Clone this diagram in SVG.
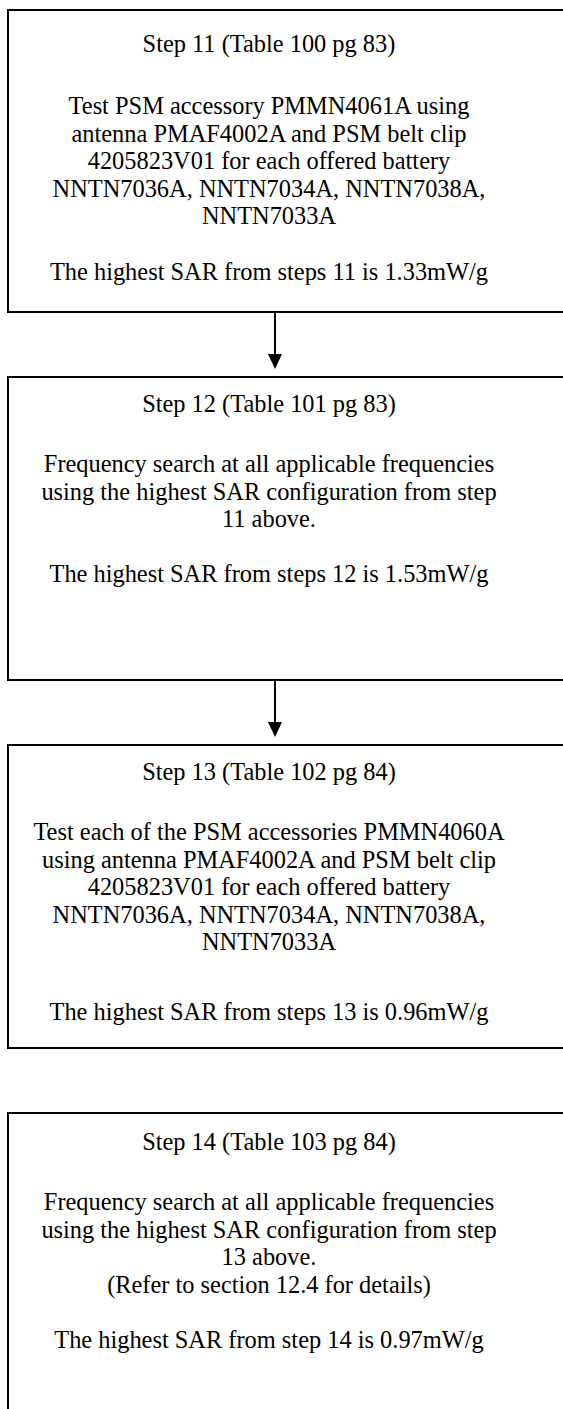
<svg xmlns="http://www.w3.org/2000/svg" width="563" height="1409" viewBox="0 0 563 1409">
<style>
.box{fill:#fff;stroke:#000;stroke-width:2}
text{font-family:'Liberation Serif','Times New Roman',Times,'DejaVu Serif',serif;font-size:24.4px;fill:#000;text-anchor:middle}
.conn{stroke:#000;stroke-width:2;fill:none}
</style>
<rect width="563" height="1409" fill="#fff"/>
<g id="step11" font-family="Liberation Serif, Times New Roman, serif">
<rect class="box" x="8" y="10" width="570" height="302"/>
<text x="269" y="52">Step 11 (Table 100 pg 83)</text>
<text x="269" y="114">Test PSM accessory PMMN4061A using</text>
<text x="269" y="141.6">antenna PMAF4002A and PSM belt clip</text>
<text x="269" y="169.2">4205823V01 for each offered battery</text>
<text x="269" y="196.8">NNTN7036A, NNTN7034A, NNTN7038A,</text>
<text x="269" y="224.4">NNTN7033A</text>
<text x="269" y="279.6">The highest SAR from steps 11 is 1.33mW/g</text>
</g>
<g id="step12" font-family="Liberation Serif, Times New Roman, serif">
<rect class="box" x="8" y="377" width="570" height="303"/>
<text x="269" y="412">Step 12 (Table 101 pg 83)</text>
<text x="269" y="472">Frequency search at all applicable frequencies</text>
<text x="269" y="499.6">using the highest SAR configuration from step</text>
<text x="269" y="527.2">11 above.</text>
<text x="269" y="582.4">The highest SAR from steps 12 is 1.53mW/g</text>
</g>
<g id="step13" font-family="Liberation Serif, Times New Roman, serif">
<rect class="box" x="8" y="745" width="570" height="303"/>
<text x="269" y="780">Step 13 (Table 102 pg 84)</text>
<text x="269" y="840">Test each of the PSM accessories PMMN4060A</text>
<text x="269" y="867.6">using antenna PMAF4002A and PSM belt clip</text>
<text x="269" y="895.2">4205823V01 for each offered battery</text>
<text x="269" y="922.8">NNTN7036A, NNTN7034A, NNTN7038A,</text>
<text x="269" y="950.4">NNTN7033A</text>
<text x="269" y="1020">The highest SAR from steps 13 is 0.96mW/g</text>
</g>
<g id="step14" font-family="Liberation Serif, Times New Roman, serif">
<rect class="box" x="8" y="1113" width="570" height="320"/>
<text x="269" y="1150">Step 14 (Table 103 pg 84)</text>
<text x="269" y="1210">Frequency search at all applicable frequencies</text>
<text x="269" y="1237.6">using the highest SAR configuration from step</text>
<text x="269" y="1265.2">13 above.</text>
<text x="269" y="1292.8">(Refer to section 12.4 for details)</text>
<text x="269" y="1348">The highest SAR from step 14 is 0.97mW/g</text>
</g>
<g id="connectors">
<line class="conn" x1="275" y1="313" x2="275" y2="356"/>
<path d="M268,354 L282,354 L275,369 Z" fill="#000"/>
<line class="conn" x1="275" y1="681" x2="275" y2="724"/>
<path d="M268,722 L282,722 L275,737 Z" fill="#000"/>
</g>
</svg>
